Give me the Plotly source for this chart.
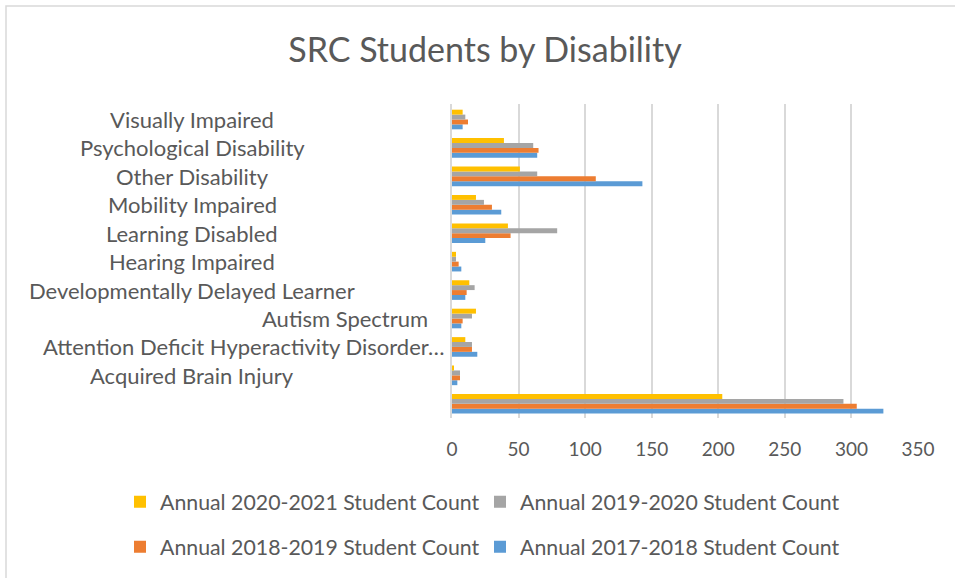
import plotly.graph_objects as go

# ---- data (bottom to top) ----
categories = [
    " ",
    "Acquired Brain Injury",
    "Attention Deficit Hyperactivity Disorder…",
    "Autism Spectrum",
    "Developmentally Delayed Learner",
    "Hearing Impaired",
    "Learning Disabled",
    "Mobility Impaired",
    "Other Disability",
    "Psychological Disability",
    "Visually Impaired",
]
count_2017_2018 = [324, 4, 19, 7, 10, 7, 25, 37, 143, 64, 8]
count_2018_2019 = [304, 6, 15, 8, 11, 5, 44, 30, 108, 65, 12]
count_2019_2020 = [294, 6, 15, 15, 17, 3, 79, 24, 64, 61, 10]
count_2020_2021 = [203, 1, 10, 18, 13, 3, 42, 18, 51, 39, 8]
series_names = [
    "Annual 2017-2018 Student Count",
    "Annual 2018-2019 Student Count",
    "Annual 2019-2020 Student Count",
    "Annual 2020-2021 Student Count",
]
x_ticks = [0, 50, 100, 150, 200, 250, 300, 350]

# ---- styling ----
W, H = 955, 578
ML, MR, MT, MB = 452, 37, 104, 160
TXT = "#595959"
FONT = "Lato"
colors = ["#5B9BD5", "#ED7D31", "#A5A5A5", "#FFC000"]
# legend slot per series: (legend id, text-start px x, row center px y)
legend_slots = [("legend4", 521, 547), ("legend3", 161, 547),
                ("legend2", 521, 502), ("legend", 161, 502)]
# label placement (anchor, pixel x) mimicking the original
label_pos = {
    "Autism Spectrum": ("right", 430),
    "Attention Deficit Hyperactivity Disorder…": ("right", 446),
}
default_pos = ("center", 192)

values = [count_2017_2018, count_2018_2019, count_2019_2020, count_2020_2021]

fig = go.Figure()
legend_layouts = {}
for name, vals, col, slot in zip(series_names, values, colors, legend_slots):
    lg, tx, ty = slot
    fig.add_trace(go.Bar(
        y=categories, x=vals, name=name, orientation="h",
        marker=dict(color=col, line=dict(width=0)), legend=lg, showlegend=True,
    ))
    legend_layouts[lg] = dict(
        orientation="h", xref="container", yref="container",
        x=(tx - 41) / W, y=1 - ty / H, xanchor="left", yanchor="middle",
        font=dict(family=FONT, size=21.3, color=TXT), bgcolor="rgba(0,0,0,0)",
        visible=True,
    )

annotations = []
for cat in categories:
    if not cat.strip():
        continue
    anchor, px = label_pos.get(cat, default_pos)
    annotations.append(dict(
        x=0, xref="paper", y=cat, yref="y", text=cat, showarrow=False,
        xanchor=anchor, yanchor="middle", xshift=px - ML,
        font=dict(family=FONT, size=22, color=TXT),
    ))

def px2paper_x(px):
    return (px - ML) / (W - ML - MR)

def px2paper_y(py):
    return (H - MB - py) / (H - MT - MB)

shapes = [dict(
    type="rect", xref="paper", yref="paper",
    x0=px2paper_x(6), x1=px2paper_x(W + 10),
    y0=px2paper_y(H + 10), y1=px2paper_y(6),
    line=dict(color="#D9D9D9", width=1.5), fillcolor="rgba(0,0,0,0)", layer="below",
)]

fig.update_layout(
    width=W, height=H,
    margin=dict(l=ML, r=MR, t=MT, b=MB),
    paper_bgcolor="white", plot_bgcolor="white",
    showlegend=True,
    barmode="group", bargap=0.31, bargroupgap=0,
    title=dict(text="SRC Students by Disability", x=485 / W, xanchor="center",
               y=1 - 50 / H, yanchor="middle", xref="container", yref="container",
               font=dict(family=FONT, size=34, color=TXT)),
    xaxis=dict(range=[0, 350], tickvals=x_ticks, showgrid=True, gridcolor="#D9D9D9",
               gridwidth=1.5, zeroline=False, showline=False, ticks="",
               tickfont=dict(family=FONT, size=19, color=TXT), ticklabelstandoff=18),
    yaxis=dict(type="category", categoryorder="array", categoryarray=categories,
               showticklabels=False, showgrid=False, zeroline=False,
               showline=True, linecolor="#D9D9D9", linewidth=1.5, ticks=""),
    annotations=annotations,
    shapes=shapes,
    **legend_layouts,
)

fig.write_html("out.html", config={"displayModeBar": False},
               post_script="document.body.style.margin='0';")
